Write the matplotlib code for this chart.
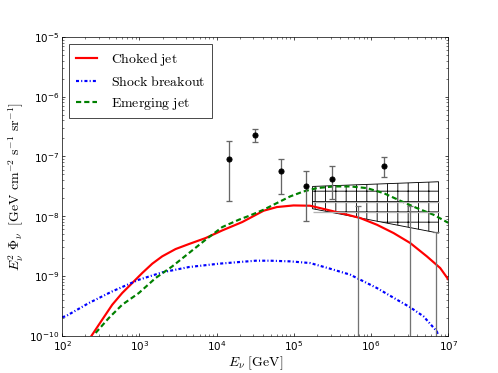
import numpy as np
import matplotlib
matplotlib.use('Agg')
import matplotlib.pyplot as plt
import matplotlib.patches as mpatches

plt.rcParams['mathtext.fontset'] = 'cm'
plt.rcParams['font.family'] = ['DejaVu Sans']
plt.rcParams['hatch.linewidth'] = 1.0

# model curves, log10 E [GeV] and log10 flux
choked_logE = [2.380, 2.518, 2.648, 2.777, 2.907, 3.036, 3.166, 3.295, 3.468, 3.641, 3.857, 4.073,
               4.332, 4.608, 4.781, 4.996, 5.212, 5.429, 5.644, 5.860, 6.076, 6.292, 6.508,
               6.724, 6.896, 7.004]
choked_logF = [-10.0, -9.732, -9.482, -9.286, -9.119, -8.952, -8.796, -8.673, -8.551, -8.467, -8.367, -8.239,
               -8.099, -7.910, -7.848, -7.821, -7.826, -7.893, -7.960, -8.032, -8.144, -8.283, -8.450,
               -8.674, -8.868, -9.064]

shock_logE = [2.0, 2.043, 2.345, 2.648, 2.993, 3.295, 3.641, 4.029, 4.504, 4.694, 4.953, 5.212,
              5.471, 5.731, 5.817, 6.076, 6.335, 6.508, 6.680, 6.853, 6.87]
shock_logF = [-9.69, -9.677, -9.454, -9.259, -9.064, -8.941, -8.852, -8.796, -8.746, -8.746, -8.757, -8.785,
              -8.880, -8.980, -9.036, -9.203, -9.398, -9.526, -9.677, -9.928, -10.0]

emerg_logE = [2.432, 2.604, 2.777, 2.993, 3.209, 3.425, 3.641, 3.857, 4.073, 4.288, 4.435, 4.608,
              4.781, 4.953, 5.126, 5.299, 5.514, 5.731, 5.946, 6.162, 6.378, 6.594, 6.810, 6.983, 7.0]
emerg_logF = [-9.955, -9.704, -9.482, -9.286, -9.036, -8.841, -8.618, -8.395, -8.183, -8.060, -7.988, -7.893,
              -7.781, -7.670, -7.587, -7.531, -7.503, -7.503, -7.531, -7.614, -7.742, -7.865, -7.977, -8.099, -8.11]

# IceCube data points
data_E = [1.45e4, 3.16e4, 6.8e4, 1.45e5, 3.1e5, 1.48e6]
data_F = [9.2e-8, 2.3e-7, 5.6e-8, 3.14e-8, 4.2e-8, 6.9e-8]
data_hi = [1.78e-7, 2.86e-7, 9.2e-8, 5.8e-8, 7.0e-8, 9.7e-8]
data_lo = [1.8e-8, 1.73e-7, 2.37e-8, 8.3e-9, 1.95e-8, 4.56e-8]

# upper limits
ul_E = [6.76e5, 3.2e6, 6.85e6]
ul_F = [1.45e-8, 1.45e-8, 5.5e-9]

# hatched region (corners)
box_E = [1.75e5, 7.5e6, 7.5e6, 1.75e5]
box_F = [3.14e-8, 3.76e-8, 5.2e-9, 1.33e-8]
band_F = [1.72e-8, 1.17e-8]

fig = plt.figure(figsize=(8, 6), dpi=62.25)
ax = fig.add_axes([0.125, 0.1, 0.775, 0.8])

ax.plot(10**np.array(choked_logE), 10**np.array(choked_logF), color='red', lw=2.5,
        label=r'$\mathrm{Choked\ jet}$')
ax.plot(10**np.array(shock_logE), 10**np.array(shock_logF), color='blue', lw=2.5,
        linestyle=(0, (1.4, 1.0, 0.5, 1.0)), label=r'$\mathrm{Shock\ breakout}$')
ax.plot(10**np.array(emerg_logE), 10**np.array(emerg_logF), color='green', lw=2.5,
        linestyle=(0, (2.4, 1.4)), label=r'$\mathrm{Emerging\ jet}$')

ax.hlines(band_F, box_E[0], box_E[1], color='0.7', lw=1.5)
box = mpatches.Polygon(list(zip(box_E, box_F)), closed=True, fill=False,
                       edgecolor='black', hatch='+', lw=1)
ax.add_patch(box)

data_F = np.array(data_F)
yerr = [data_F - np.array(data_lo), np.array(data_hi) - data_F]
ax.errorbar(data_E, data_F, yerr=yerr, fmt='o', color='black', ms=6,
            ecolor='0.4', elinewidth=1.5, capsize=4, capthick=1.5)
ul_F = np.array(ul_F)
ax.errorbar(ul_E, ul_F, yerr=[ul_F * 0.99999, ul_F * 0], fmt='none',
            ecolor='0.45', elinewidth=1.5, capsize=4, capthick=1.5)

ax.set_xscale('log')
ax.set_yscale('log')
ax.set_xlim(1e2, 1e7)
ax.set_ylim(1e-10, 1e-5)
ax.tick_params(which='both', direction='in', top=True, right=True, labelsize=12)
ax.tick_params(which='major', length=4)
ax.tick_params(which='minor', length=2)

ax.set_xlabel(r'$E_\nu\ [\mathrm{GeV}]$', fontsize=16, labelpad=2)
ax.set_ylabel(r'$E_\nu^2\ \Phi_\nu\ \ [\mathrm{GeV\ cm^{-2}\ s^{-1}\ sr^{-1}}]$', fontsize=16)

leg = ax.legend(loc='upper left', fontsize=16, fancybox=False, handlelength=1.5,
                handletextpad=1.0, borderpad=0.5, labelspacing=0.5)
leg.get_frame().set_edgecolor('black')
leg.get_frame().set_linewidth(1)

fig.savefig('out.png', dpi=62.25)
